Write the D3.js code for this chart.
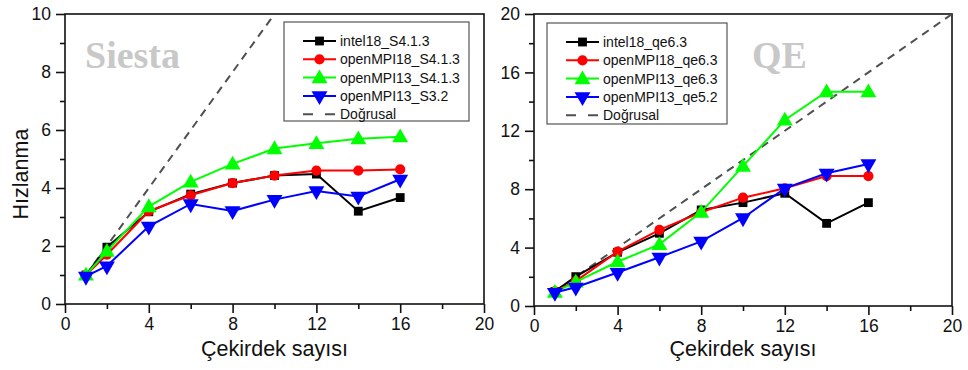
<!DOCTYPE html>
<html>
<head>
<meta charset="utf-8">
<script src="https://cdn.jsdelivr.net/npm/d3@7"></script>
<style>
  body { margin: 0; background: #fff; }
  svg { display: block; font-family: "Liberation Sans", Arial, sans-serif; }
</style>
</head>
<body>
<svg id="chart" width="968" height="370"></svg>
<script>
// cores on the x axis
const cores = [1, 2, 4, 6, 8, 10, 12, 14, 16];

// Siesta speedups
const siestaNames = ["intel18_S4.1.3", "openMPI18_S4.1.3", "openMPI13_S4.1.3", "openMPI13_S3.2"];
const siestaIntel18 = [1.0, 1.96, 3.18, 3.79, 4.17, 4.43, 4.48, 3.2, 3.67];
const siestaOmpi18  = [1.0, 1.70, 3.20, 3.75, 4.17, 4.43, 4.60, 4.60, 4.64];
const siestaOmpi13  = [1.0, 1.82, 3.36, 4.21, 4.83, 5.36, 5.54, 5.70, 5.77];
const siestaOmpi13b = [0.95, 1.31, 2.68, 3.45, 3.21, 3.60, 3.90, 3.71, 4.30];

// QE speedups
const qeNames = ["intel18_qe6.3", "openMPI18_qe6.3", "openMPI13_qe6.3", "openMPI13_qe5.2"];
const qeIntel18 = [1.0, 2.01, 3.68, 4.98, 6.58, 7.08, 7.72, 5.66, 7.08];
const qeOmpi18  = [1.0, 1.70, 3.72, 5.21, 6.42, 7.42, 8.06, 8.90, 8.90];
const qeOmpi13  = [0.95, 1.65, 3.03, 4.22, 6.43, 9.58, 12.74, 14.68, 14.68];
const qeOmpi13b = [0.92, 1.28, 2.29, 3.34, 4.43, 6.03, 8.06, 9.09, 9.73];

const linearLabel = "Doğrusal";
const xTicks = [0, 4, 8, 12, 16, 20];

const colors = ["#000000", "#ff0000", "#00ff00", "#0000ff"];
const shapes = [d3.symbolSquare, d3.symbolCircle, d3.symbolTriangle, "down"];

const svg = d3.select("#chart");

function marker(g, shapeIdx, x, y, color) {
  const s = shapes[shapeIdx];
  if (s === "down") {
    g.append("path")
      .attr("d", d3.symbol(d3.symbolTriangle, 110)())
      .attr("transform", `translate(${x},${y}) rotate(180)`)
      .attr("fill", color);
  } else {
    const size = s === d3.symbolSquare ? 78 : s === d3.symbolCircle ? 82 : 110;
    g.append("path")
      .attr("d", d3.symbol(s, size)())
      .attr("transform", `translate(${x},${y + (s === d3.symbolTriangle ? 1 : 0)})`)
      .attr("fill", color);
  }
}

function panel(opts) {
  const x = d3.scaleLinear().domain([0, 20]).range(opts.xr);
  const y = d3.scaleLinear().domain([0, opts.ymax]).range(opts.yr);
  const g = svg.append("g");
  const clipId = "clip" + opts.id;

  svg.append("clipPath").attr("id", clipId)
    .append("rect")
    .attr("x", opts.xr[0]).attr("y", opts.yr[1])
    .attr("width", opts.xr[1] - opts.xr[0]).attr("height", opts.yr[0] - opts.yr[1]);

  // frame
  g.append("rect")
    .attr("x", opts.xr[0]).attr("y", opts.yr[1])
    .attr("width", opts.xr[1] - opts.xr[0]).attr("height", opts.yr[0] - opts.yr[1])
    .attr("fill", "none").attr("stroke", "#111").attr("stroke-width", 1.6);

  // axes
  g.append("g").attr("transform", `translate(0,${opts.yr[0]})`)
    .call(d3.axisBottom(x).tickValues(xTicks).tickSize(9).tickPadding(5));
  g.append("g").attr("transform", `translate(0,${opts.yr[0]})`)
    .call(d3.axisBottom(x).tickValues([2, 6, 10, 14, 18]).tickSize(5).tickFormat(""));
  g.append("g").attr("transform", `translate(${opts.xr[0]},0)`)
    .call(d3.axisLeft(y).tickValues(opts.yTicks).tickSize(9).tickPadding(5));
  g.append("g").attr("transform", `translate(${opts.xr[0]},0)`)
    .call(d3.axisLeft(y).tickValues(opts.yMinor).tickSize(5).tickFormat(""));
  g.selectAll(".domain").remove();
  g.selectAll(".tick line").attr("stroke", "#111").attr("stroke-width", 1.6);
  g.selectAll(".tick text").attr("font-size", 17.5).attr("fill", "#111")
    .attr("font-family", "Liberation Sans, Arial, sans-serif");

  // title watermark
  g.append("text")
    .attr("x", opts.titleX).attr("y", 68)
    .attr("font-family", "Liberation Serif, Times New Roman, serif")
    .attr("font-weight", "bold").attr("font-size", 38)
    .attr("fill", "#c8c8c8").text(opts.title);

  const plot = g.append("g").attr("clip-path", `url(#${clipId})`);

  // linear reference
  plot.append("path")
    .datum([1, 20])
    .attr("d", d3.line().x(d => x(d)).y(d => y(d)))
    .attr("fill", "none").attr("stroke", "#505050")
    .attr("stroke-width", 2).attr("stroke-dasharray", "8,6");

  const line = d3.line().x((d, i) => x(cores[i])).y(d => y(d));
  opts.series.forEach((vals, k) => {
    plot.append("path").datum(vals)
      .attr("d", line)
      .attr("fill", "none").attr("stroke", colors[k]).attr("stroke-width", 2);
    vals.forEach((v, i) => marker(plot, k, x(cores[i]), y(v), colors[k]));
  });

  // legend
  const L = opts.legend;
  const lg = g.append("g");
  lg.append("rect")
    .attr("x", L.x).attr("y", L.y).attr("width", L.w).attr("height", L.h)
    .attr("fill", "#fff").attr("stroke", "#555").attr("stroke-width", 1.2);
  const rows = opts.names.concat([linearLabel]);
  rows.forEach((name, k) => {
    const yy = L.y + 19 + k * 18.3;
    const x0 = L.x + 19, x1 = x0 + 33;
    if (k < 4) {
      lg.append("line").attr("x1", x0).attr("x2", x1).attr("y1", yy).attr("y2", yy)
        .attr("stroke", colors[k]).attr("stroke-width", 2);
      marker(lg, k, (x0 + x1) / 2, yy, colors[k]);
    } else {
      lg.append("line").attr("x1", x0).attr("x2", x1).attr("y1", yy).attr("y2", yy)
        .attr("stroke", "#505050").attr("stroke-width", 2).attr("stroke-dasharray", "10,12");
    }
    lg.append("text").attr("x", x1 + 4).attr("y", yy + 5)
      .attr("font-size", 14).attr("fill", "#111").text(name);
  });

  // x label
  g.append("text")
    .attr("x", (opts.xr[0] + opts.xr[1]) / 2).attr("y", 356)
    .attr("text-anchor", "middle").attr("font-size", 21.5).attr("fill", "#111")
    .text("Çekirdek sayısı");
}

panel({
  id: "a", xr: [65, 484], yr: [304, 14], ymax: 10,
  yTicks: [0, 2, 4, 6, 8, 10], yMinor: [1, 3, 5, 7, 9],
  title: "Siesta", titleX: 85,
  names: siestaNames,
  series: [siestaIntel18, siestaOmpi18, siestaOmpi13, siestaOmpi13b],
  legend: { x: 284, y: 22, w: 185, h: 99 }
});

panel({
  id: "b", xr: [534, 952], yr: [306, 14], ymax: 20,
  yTicks: [0, 4, 8, 12, 16, 20], yMinor: [2, 6, 10, 14, 18],
  title: "QE", titleX: 752,
  names: qeNames,
  series: [qeIntel18, qeOmpi18, qeOmpi13, qeOmpi13b],
  legend: { x: 547, y: 23, w: 180, h: 101 }
});

// y label
svg.append("text")
  .attr("transform", "translate(28,174) rotate(-90)")
  .attr("text-anchor", "middle").attr("font-size", 21.5).attr("fill", "#111")
  .text("Hızlanma");
</script>
</body>
</html>
